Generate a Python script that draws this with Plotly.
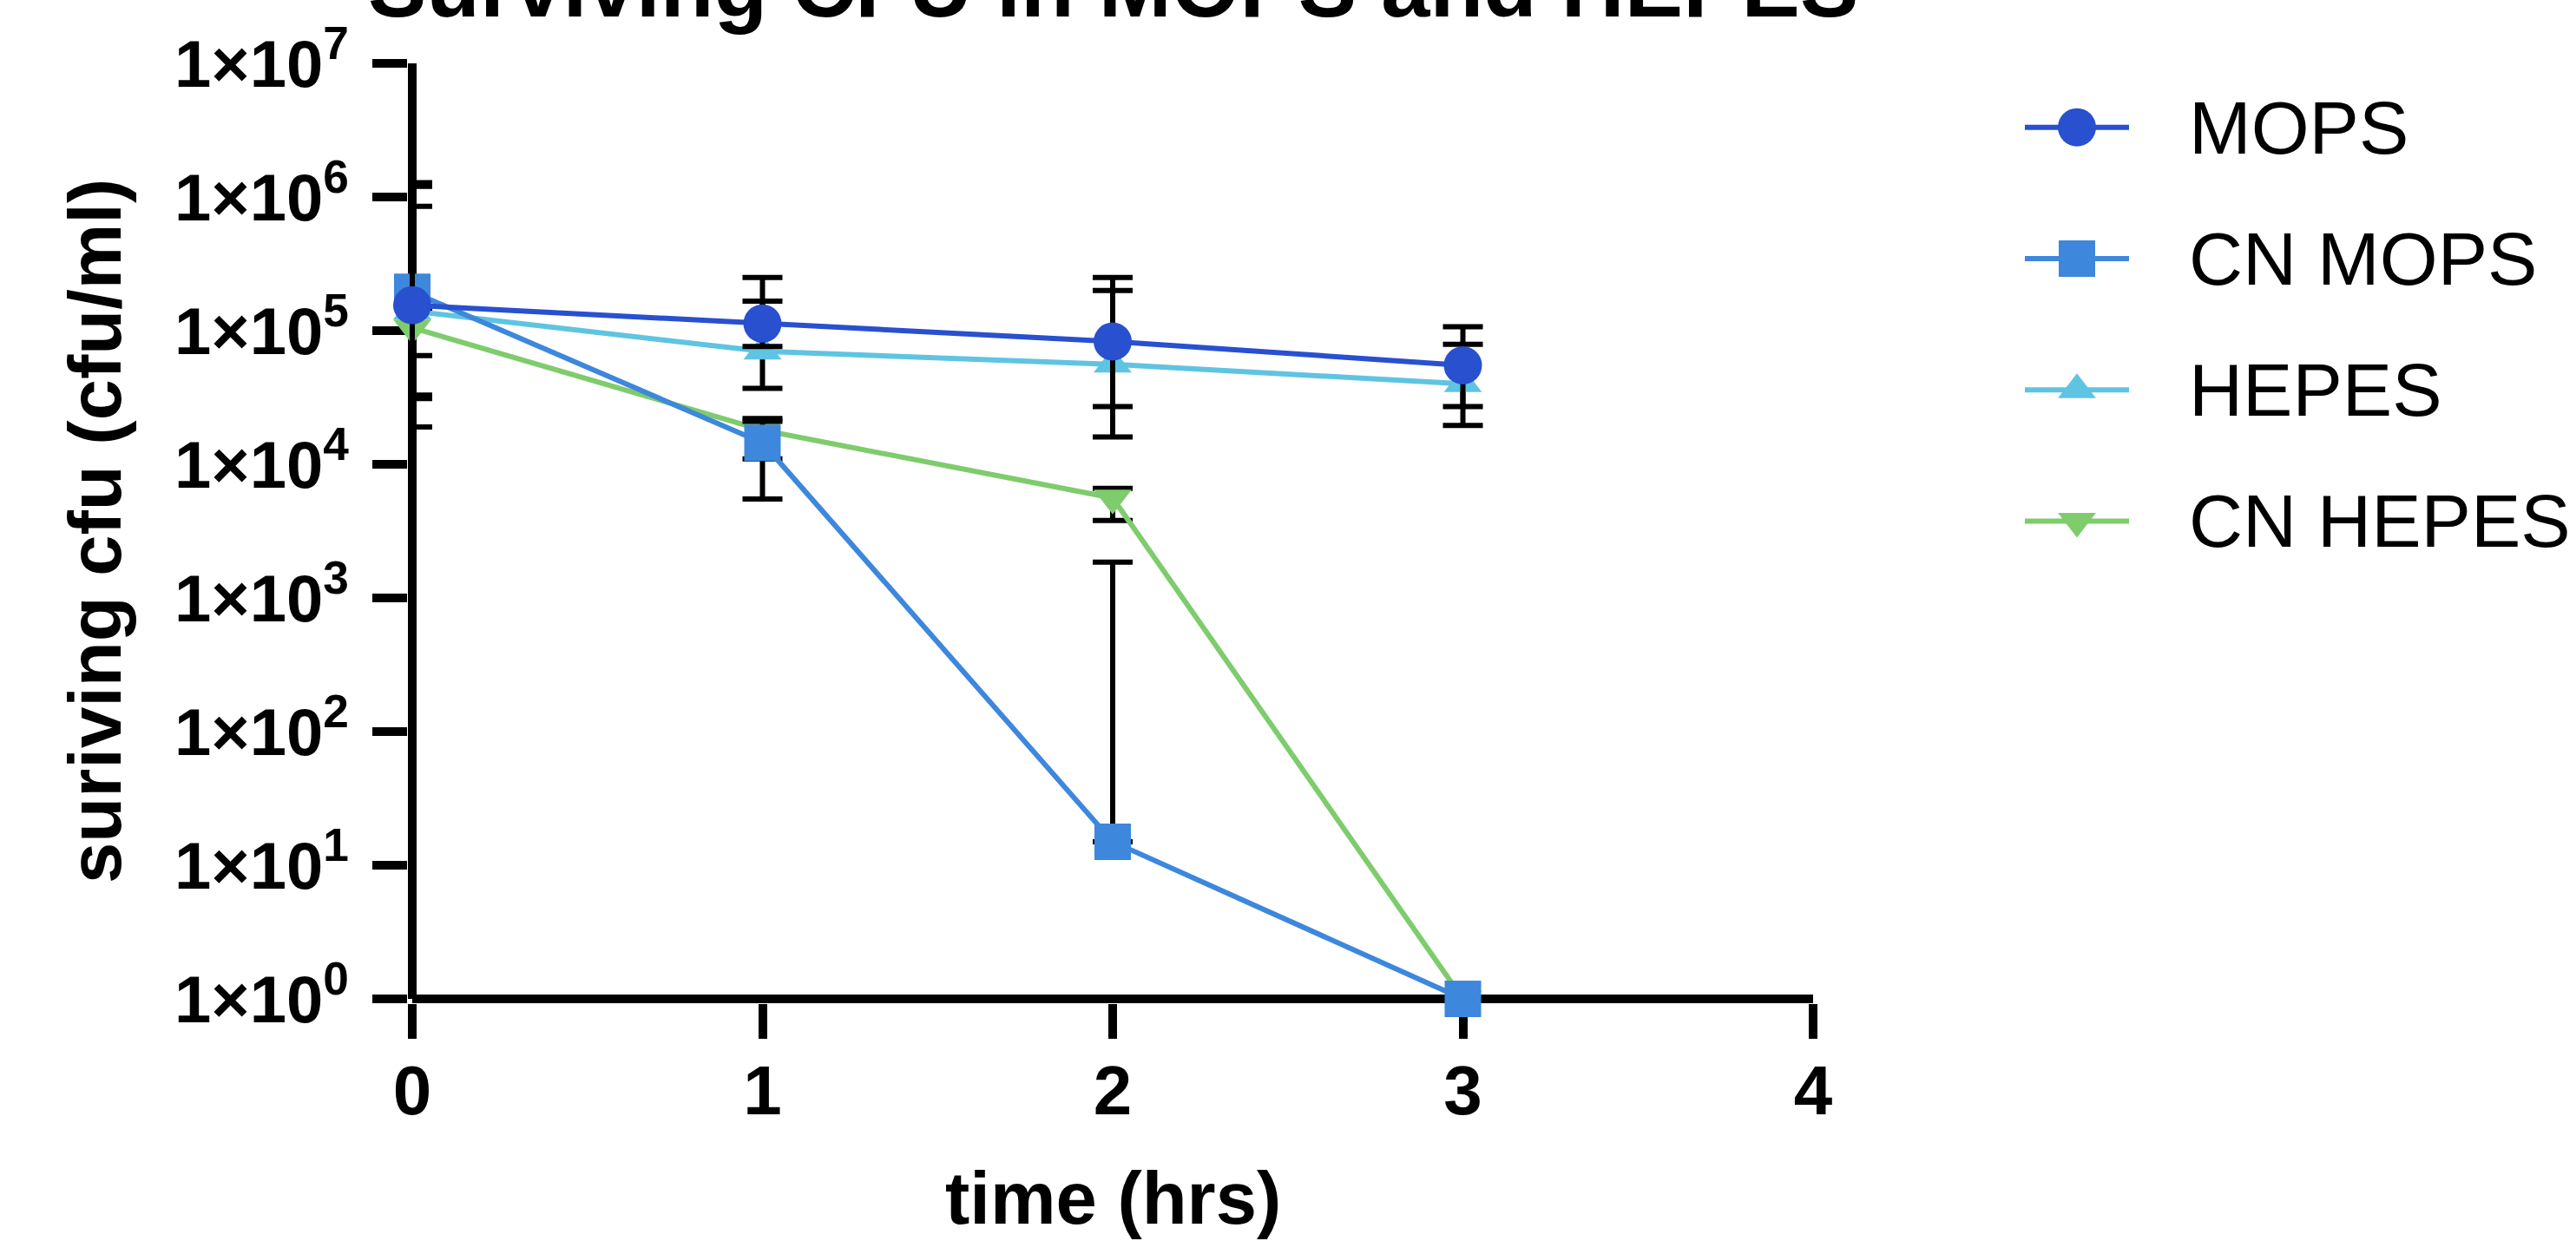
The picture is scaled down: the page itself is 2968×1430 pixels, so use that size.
import plotly.graph_objects as go

W, H = 2968, 1430

# ---------------- data ----------------
time_hrs = [0, 1, 2, 3]
series_names = ["MOPS", "CN MOPS", "HEPES", "CN HEPES"]

mops = [1.55e5, 1.13e5, 8.3e4, 5.5e4]
mops_hi = [1.28e6, 2.5e5, 2.5e5, 1.07e5]
mops_lo = [1.9e4, 7.6e4, 2.7e4, 2.7e4]

cn_mops = [1.95e5, 1.45e4, 15, 1]
cn_mops_hi = [1.2e6, 2.1e4, 1.85e3, None]
cn_mops_lo = [3.3e4, 5.5e3, None, None]

hepes = [1.4e5, 7.0e4, 5.6e4, 4.0e4]
hepes_hi = [8.5e5, 1.66e5, 2.0e5, 7.9e4]
hepes_lo = [3.1e4, 3.7e4, 1.6e4, 1.95e4]

cn_hepes = [1.05e5, 1.8e4, 5.6e3, 1]
cn_hepes_hi = [1.4e5, 2.2e4, 6.6e3, None]
cn_hepes_lo = [6.5e4, 1.1e4, 3.8e3, None]

x_ticks = [0, 1, 2, 3, 4]
y_exponents = [0, 1, 2, 3, 4, 5, 6, 7]

colors = {"MOPS": "#2850CF", "CN MOPS": "#3D87DD", "HEPES": "#5FC4E1", "CN HEPES": "#7ECC6C"}
symbols = {"MOPS": "circle", "CN MOPS": "square", "HEPES": "triangle-up", "CN HEPES": "triangle-down"}
sizes = {"MOPS": 44, "CN MOPS": 42, "HEPES": 38, "CN HEPES": 38}

data = {
    "MOPS": (mops, mops_hi, mops_lo),
    "CN MOPS": (cn_mops, cn_mops_hi, cn_mops_lo),
    "HEPES": (hepes, hepes_hi, hepes_lo),
    "CN HEPES": (cn_hepes, cn_hepes_hi, cn_hepes_lo),
}

FONT = "Liberation Sans, Arial, Helvetica, sans-serif"

# pixel geometry of the plotting frame
X0_PX, X4_PX = 475, 2089          # x = 0 and x = 4
YTOP_PX, YBOT_PX = 73, 1151       # y = 1e7 and y = 1e0
PAD = 5                           # half the axis-line width, so the lines are not clipped
AXW = 10

x_per_px = (max(x_ticks) - min(x_ticks)) / (X4_PX - X0_PX)
dec_per_px = (max(y_exponents) - min(y_exponents)) / (YBOT_PX - YTOP_PX)


def px_x(p):
    return p / W


def px_y(p):
    return (H - p) / H


fig = go.Figure()

# axis lines as shapes in data coordinates
fig.add_shape(type="line", xref="x", yref="y", x0=min(x_ticks), x1=max(x_ticks),
              y0=10 ** min(y_exponents), y1=10 ** min(y_exponents),
              line=dict(color="black", width=AXW), layer="below")
fig.add_shape(type="line", xref="x", yref="y", x0=min(x_ticks), x1=min(x_ticks),
              y0=10 ** min(y_exponents), y1=10 ** max(y_exponents),
              line=dict(color="black", width=AXW), layer="below")

# draw order: bottom -> top
for name in ["CN HEPES", "HEPES", "CN MOPS", "MOPS"]:
    vals, hi, lo = data[name]
    plus = [(h - v) if h is not None else None for v, h in zip(vals, hi)]
    minus = [(v - l) if l is not None else None for v, l in zip(vals, lo)]
    fig.add_trace(go.Scatter(
        x=time_hrs, y=vals, name=name, mode="lines+markers",
        line=dict(color=colors[name], width=6),
        marker=dict(symbol=symbols[name], size=sizes[name], color=colors[name],
                    opacity=1, line=dict(width=0)),
        error_y=dict(type="data", symmetric=False, array=plus, arrayminus=minus,
                     color="black", thickness=6, width=23),
        cliponaxis=False, showlegend=False, xaxis="x", yaxis="y",
    ))

# custom legend (Prism style) on a hidden helper axis
for i, name in enumerate(series_names):
    fig.add_trace(go.Scatter(
        x=[-1, 0, 1], y=[i, i, i], mode="lines+markers",
        line=dict(color=colors[name], width=6),
        marker=dict(symbol=symbols[name], size=[0, sizes[name], 0], color=colors[name],
                    opacity=1, line=dict(width=0)),
        cliponaxis=False, showlegend=False, xaxis="x2", yaxis="y2", hoverinfo="skip",
    ))
    fig.add_annotation(text=name, xref="paper", yref="y2", x=px_x(2520), y=i,
                       xanchor="left", yanchor="middle", showarrow=False,
                       font=dict(family=FONT, size=86, color="black"))

fig.update_layout(
    width=W, height=H, autosize=False, template="none",
    margin=dict(l=0, r=0, t=0, b=0),
    paper_bgcolor="white", plot_bgcolor="rgba(0,0,0,0)",
    showlegend=False,
    xaxis=dict(
        domain=[px_x(X0_PX - PAD), px_x(X4_PX + PAD)],
        range=[min(x_ticks) - PAD * x_per_px, max(x_ticks) + PAD * x_per_px], anchor="y",
        showline=False, showgrid=False, zeroline=False,
        tickmode="array", tickvals=x_ticks, ticktext=[str(t) for t in x_ticks],
        ticks="outside", ticklen=45 - PAD, tickwidth=AXW, tickcolor="black",
        tickfont=dict(family=FONT, size=80, color="black", weight="bold"),
        ticklabelstandoff=-9, automargin=False, layer="below traces",
    ),
    yaxis=dict(
        domain=[px_y(YBOT_PX + PAD), px_y(YTOP_PX - PAD)], type="log",
        range=[min(y_exponents) - PAD * dec_per_px, max(y_exponents) + PAD * dec_per_px], anchor="x",
        showline=False, showgrid=False, zeroline=False,
        tickmode="array", tickvals=[10 ** e for e in y_exponents],
        ticktext=["1×10<sup>%d</sup>" % e for e in y_exponents],
        ticks="outside", ticklen=45 - PAD, tickwidth=AXW, tickcolor="black",
        tickfont=dict(family=FONT, size=76, color="black", weight="bold"),
        ticklabelstandoff=12, automargin=False, layer="below traces",
    ),
    xaxis2=dict(domain=[px_x(2333), px_x(2453)], range=[-1, 1], anchor="y2", visible=False),
    yaxis2=dict(domain=[px_y(676), px_y(71)], range=[3.5, -0.5], anchor="x2", visible=False),
)

# titles
fig.add_annotation(text="Surviving CFU in MOPS and HEPES", xref="paper", yref="paper",
                   x=px_x(1282), y=px_y(-16), xanchor="center", yanchor="middle", showarrow=False,
                   font=dict(family=FONT, size=101, color="black", weight="bold"))
fig.add_annotation(text="time (hrs)", xref="paper", yref="paper",
                   x=px_x(1282), y=px_y(1380), xanchor="center", yanchor="middle", showarrow=False,
                   font=dict(family=FONT, size=85, color="black", weight="bold"))
fig.add_annotation(text="suriving cfu (cfu/ml)", xref="paper", yref="paper",
                   x=px_x(109), y=px_y(612), xanchor="center", yanchor="middle", showarrow=False,
                   textangle=-90,
                   font=dict(family=FONT, size=85, color="black", weight="bold"))

fig.write_html("out.html")
